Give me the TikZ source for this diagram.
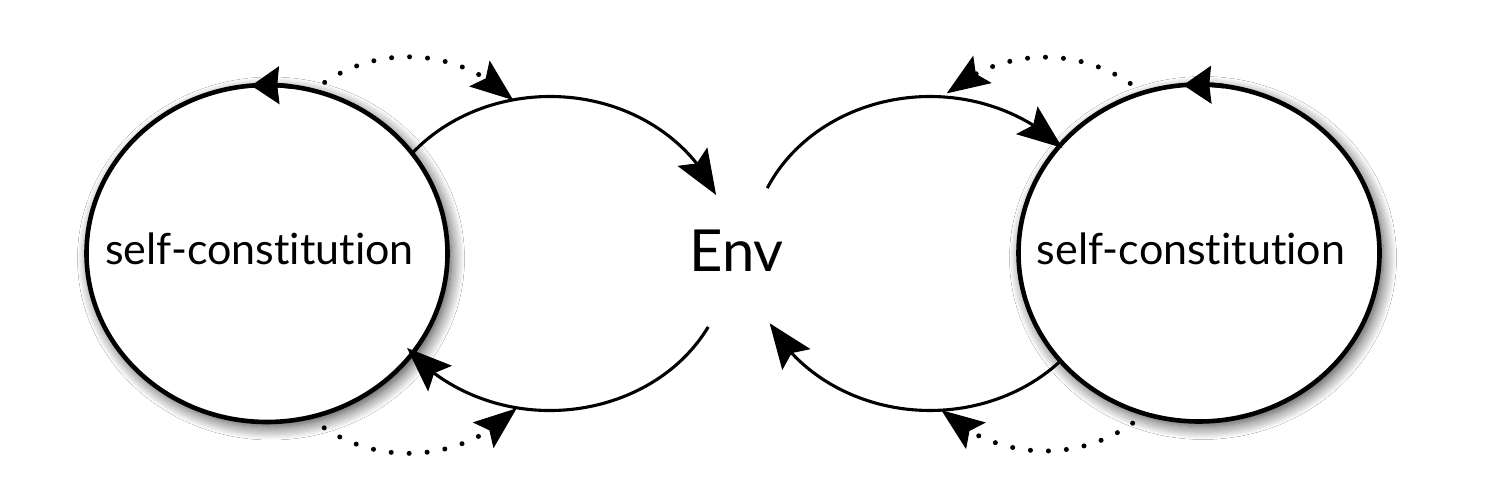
\documentclass[tikz,border=0pt]{standalone}
\usepackage{fontspec}
\setmainfont{Lato}[Ligatures=NoCommon]
\usetikzlibrary{arrows.meta,bending,shapes.geometric,shadows.blur,calc}
\begin{document}
\begin{tikzpicture}[x=1pt,y=1pt,
  ring/.style={ellipse, draw, line width=4.6pt, fill=white, inner sep=0pt,
    minimum width=361pt, minimum height=337pt,
    blur shadow={shadow xshift=4pt, shadow yshift=-5pt, shadow blur radius=13pt, shadow opacity=75, shadow blur steps=12}},
  envarc/.style={line width=3.1pt, -{Stealth[length=45pt,width=35pt,inset=8pt,line width=1pt]}},
  dotarc/.style={line width=5pt, line cap=round, dash pattern=on 0pt off 18pt,
    -{Stealth[length=43pt,width=33pt,inset=8pt,line width=1pt]}},
  ringtip/.style={line width=4.6pt, -{Stealth[length=28pt,width=38pt,inset=2pt,line width=1pt]}},
  lab/.style={font=\fontsize{43}{50}\selectfont, anchor=base, inner sep=0pt},
  envlab/.style={font=\fontsize{58}{64}\selectfont, anchor=base, inner sep=0pt},
]
\fill[white] (0,0) rectangle (1502,482);
\path[use as bounding box] (0,0) rectangle (1502,482);

% centres of the dotted arcs and the Env arcs
\coordinate (dTL) at (408.2,276.2);
\coordinate (dBL) at (408.6,180.6);
\coordinate (dTR) at (1045,273.2);
\coordinate (dBR) at (1045,183);
\coordinate (eL) at (550,228.5);
\coordinate (eR) at (930,228.5);

% dotted arcs (behind the circles)
\draw[dotarc] ($(dTL)+(131:149)$) arc[start angle=131, end angle=45.2, radius=149];
\draw[dotarc] ($(dBL)+(-130.5:152)$) arc[start angle=-130.5, end angle=-44.7, radius=152];
\draw[dotarc] ($(dTR)+(49:151.6)$) arc[start angle=49, end angle=130.4, radius=151.6];
\draw[dotarc] ($(dBR)+(-48:152)$) arc[start angle=-48, end angle=-133, radius=152];

% the two circles
\node[ring] (selfL) at (267,228.5) {};
\node[ring] (selfR) at (1199,229) {};

% arrow heads on the circles
\draw[ringtip] ($(selfL.center)+(82:180.5 and 168.5)$) arc[start angle=82, end angle=95, x radius=180.5, y radius=168.5];
\draw[ringtip] ($(selfR.center)+(82:180.5 and 168.5)$) arc[start angle=82, end angle=95, x radius=180.5, y radius=168.5];

% arcs to and from the environment
\draw[envarc] ($(eL)+(140:179 and 157)$) arc[start angle=140, end angle=21.9, x radius=179, y radius=157];
\draw[envarc] ($(eL)+(-27.9:179 and 157)$) arc[start angle=-27.9, end angle=-143, x radius=179, y radius=157];
\draw[envarc] ($(eR)+(155.4:179 and 157)$) arc[start angle=155.4, end angle=42.3, x radius=179, y radius=157];
\draw[envarc] ($(eR)+(316.5:179 and 157)$) arc[start angle=316.5, end angle=206.4, x radius=179, y radius=157];

% labels
\node[lab] (labL) at (259.5,217) {self-constitution};
\node[lab] (labR) at (1191,217) {self-constitution};
\node[envlab] (env) at (736.5,210.3) {Env};
\end{tikzpicture}
\end{document}
